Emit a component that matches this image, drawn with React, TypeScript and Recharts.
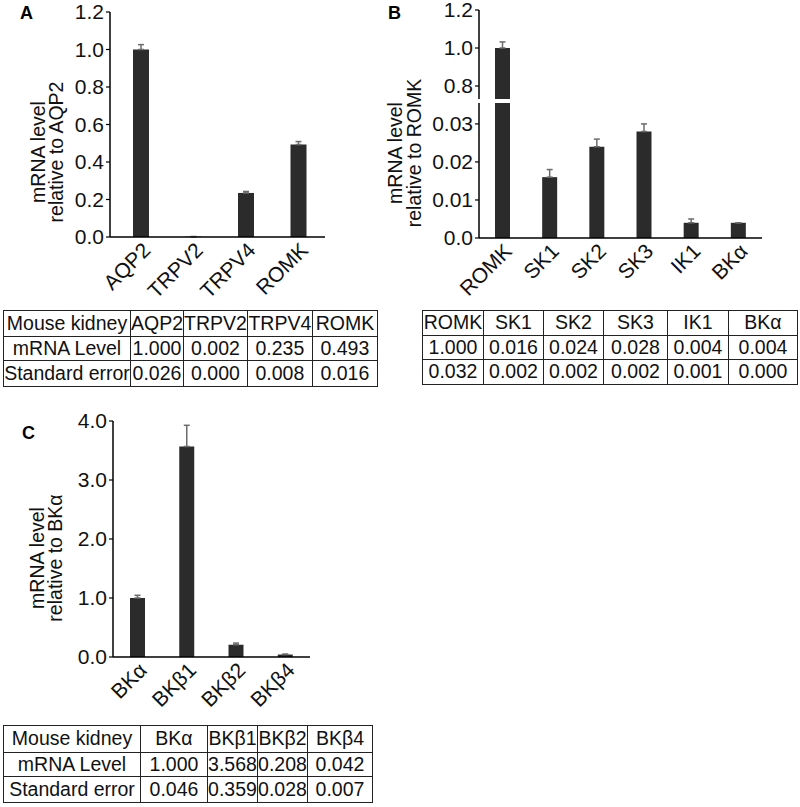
import React from 'react';
import { Bar, BarChart, ErrorBar, XAxis, YAxis } from 'recharts';

const FONT = '"Liberation Sans", Arial, sans-serif';
const BAR_FILL = '#2b2b2b';
const ERR_STROKE = '#6b6b6b';

// panel A
const catsA = ['AQP2', 'TRPV2', 'TRPV4', 'ROMK'];
const levelA = [1.0, 0.002, 0.235, 0.493];
const errA = [0.026, 0.0, 0.008, 0.016];

// panel B
const catsB = ['ROMK', 'SK1', 'SK2', 'SK3', 'IK1', 'BKα'];
const levelB = [1.0, 0.016, 0.024, 0.028, 0.004, 0.004];
const errB = [0.032, 0.002, 0.002, 0.002, 0.001, 0.0];

// panel C
const catsC = ['BKα', 'BKβ1', 'BKβ2', 'BKβ4'];
const levelC = [1.0, 3.568, 0.208, 0.042];
const errC = [0.046, 0.359, 0.028, 0.007];

const ticksA = [0, 0.2, 0.4, 0.6, 0.8, 1.0, 1.2];
const ticksBTop = [0.8, 1.0, 1.2];
const ticksBBottom = [0, 0.01, 0.02, 0.03];
const ticksC = [0, 1, 2, 3, 4];

const rows = (cats: string[], level: number[], err: number[]) =>
  cats.map((name, i) => ({ name, level: level[i], err: [0, err[i]] }));

const dataA = rows(catsA, levelA, errA);
const dataB = rows(catsB, levelB, errB);
const dataC = rows(catsC, levelC, errC);

const axisLine = { stroke: '#000', strokeWidth: 1.5 };
const tickStyle = { fontSize: 21, fill: '#111', fontFamily: FONT };

function xAxis(extra: any = {}) {
  return (
    <XAxis
      dataKey="name"
      axisLine={axisLine}
      tickLine={false}
      interval={0}
      angle={-45}
      textAnchor="end"
      height={60}
      tickSize={2}
      tick={tickStyle}
      {...extra}
    />
  );
}

function yAxis(domain: number[], ticks: number[], digits: number, extra: any = {}) {
  return (
    <YAxis
      domain={domain}
      ticks={ticks}
      interval={0}
      width={50}
      axisLine={axisLine}
      tickLine={{ stroke: '#000', strokeWidth: 1.2 }}
      tickSize={4}
      tick={tickStyle}
      tickFormatter={(v: number) => (v === 0 ? '0.0' : v.toFixed(digits))}
      {...extra}
    />
  );
}

function bars(size: number) {
  return (
    <Bar dataKey="level" fill={BAR_FILL} barSize={size} isAnimationActive={false}>
      <ErrorBar dataKey="err" width={3} stroke={ERR_STROKE} strokeWidth={1.5} direction="y" />
    </Bar>
  );
}

function DataTable({ header, body, widths, heights }: { header: string[]; body: string[][]; widths: number[]; heights: number[] }) {
  const all = [header, ...body];
  return (
    <table
      style={{
        borderCollapse: 'collapse',
        tableLayout: 'fixed',
        fontFamily: FONT,
        fontSize: 19.5,
        color: '#111',
      }}
    >
      <colgroup>
        {widths.map((w, i) => (
          <col key={i} style={{ width: w }} />
        ))}
      </colgroup>
      <tbody>
        {all.map((r, ri) => (
          <tr key={ri} style={{ height: heights[ri] }}>
            {r.map((c, ci) => (
              <td
                key={ci}
                style={{
                  border: '1.5px solid #222',
                  padding: 0,
                  textAlign: 'center',
                  whiteSpace: 'nowrap',
                  overflow: 'visible',
                  lineHeight: 1,
                }}
              >
                {c}
              </td>
            ))}
          </tr>
        ))}
      </tbody>
    </table>
  );
}

const fmt = (arr: number[]) => arr.map((v) => v.toFixed(3));

export default function App() {
  return (
    <div style={{ position: 'absolute', left: 0, top: 0, width: 800, height: 807, background: '#fff' }}>
      {/* A */}
      <div style={{ position: 'absolute', left: 0, top: 0 }}>
        <BarChart width={340} height={300} data={dataA} margin={{ top: 12, right: 15, left: 60, bottom: 3 }}>
          {xAxis({ padding: { left: 5, right: 0 } })}
          {yAxis([0, 1.2], ticksA, 1)}
          {bars(16)}
        </BarChart>
      </div>

      {/* B upper segment */}
      <div style={{ position: 'absolute', left: 400, top: 0 }}>
        <BarChart width={380} height={99} data={dataB} margin={{ top: 10, right: 18, left: 29, bottom: 0 }}>
          <XAxis dataKey="name" hide />
          {yAxis([0.7316, 1.2], ticksBTop, 1, { allowDataOverflow: true })}
          {bars(15)}
        </BarChart>
      </div>
      {/* B lower segment */}
      <div style={{ position: 'absolute', left: 400, top: 99 }}>
        <BarChart width={380} height={199} data={dataB} margin={{ top: 4, right: 18, left: 29, bottom: 0 }}>
          {xAxis()}
          {yAxis([0, 0.0355], ticksBBottom, 2, { allowDataOverflow: true })}
          {bars(15)}
        </BarChart>
      </div>

      {/* C */}
      <div style={{ position: 'absolute', left: 0, top: 410 }}>
        <BarChart width={330} height={307} data={dataC} margin={{ top: 11, right: 20, left: 63, bottom: 0 }}>
          {xAxis()}
          {yAxis([0, 4], ticksC, 1)}
          {bars(15)}
        </BarChart>
      </div>

      {/* tables */}
      <div style={{ position: 'absolute', left: 3, top: 310 }}>
        <DataTable
          header={['Mouse kidney', ...catsA]}
          body={[
            ['mRNA Level', ...fmt(levelA)],
            ['Standard error', ...fmt(errA)],
          ]}
          widths={[127, 53, 62, 65, 65]}
          heights={[26, 24, 26]}
        />
      </div>
      <div style={{ position: 'absolute', left: 422, top: 310 }}>
        <DataTable
          header={catsB}
          body={[fmt(levelB), fmt(errB)]}
          widths={[61, 60, 60, 64, 61, 69]}
          heights={[25, 24, 25]}
        />
      </div>
      <div style={{ position: 'absolute', left: 3, top: 725 }}>
        <DataTable
          header={['Mouse kidney', ...catsC]}
          body={[
            ['mRNA Level', ...fmt(levelC)],
            ['Standard error', ...fmt(errC)],
          ]}
          widths={[137, 67, 50, 50, 65]}
          heights={[27, 24, 26]}
        />
      </div>

      {/* panel letters and axis titles */}
      <svg
        width={800}
        height={807}
        style={{ position: 'absolute', left: 0, top: 0, pointerEvents: 'none' }}
        fontFamily={FONT}
      >
        <text x={20} y={19} fontSize={18} fontWeight="bold">A</text>
        <text x={388} y={19} fontSize={18} fontWeight="bold">B</text>
        <text x={22} y={439} fontSize={18} fontWeight="bold">C</text>

        <g fontSize={19.5} fill="#111" textAnchor="middle">
          <text transform="translate(45,152) rotate(-90)">mRNA level</text>
          <text transform="translate(63,152) rotate(-90)">relative to AQP2</text>
          <text transform="translate(402,153) rotate(-90)">mRNA level</text>
          <text transform="translate(421,153) rotate(-90)">relative to ROMK</text>
          <text transform="translate(44,558) rotate(-90)">mRNA level</text>
          <text transform="translate(62,558) rotate(-90)">relative to BKα</text>
        </g>
      </svg>
    </div>
  );
}
